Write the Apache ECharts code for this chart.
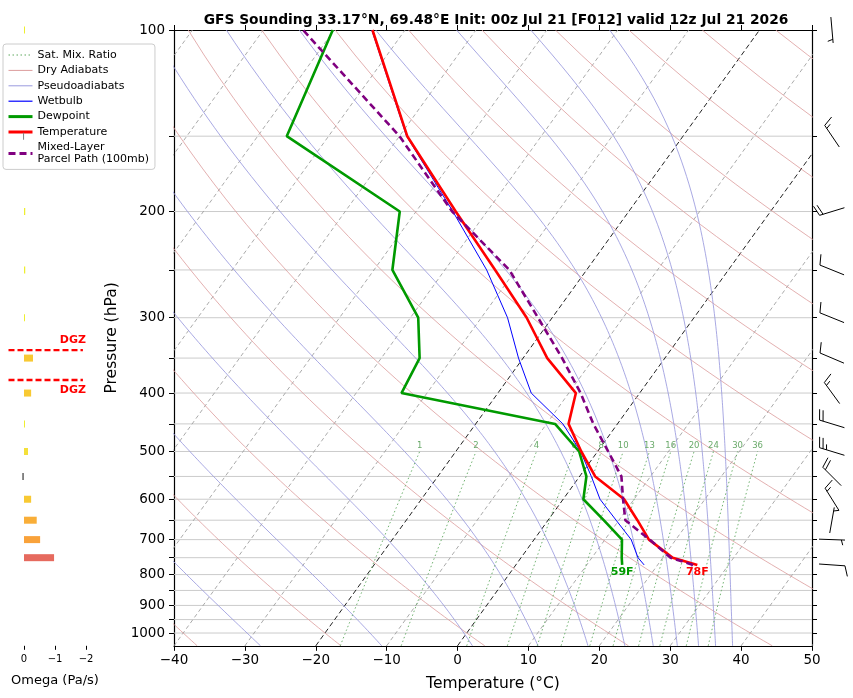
<!DOCTYPE html>
<html><head><meta charset="utf-8">
<script src="https://cdn.jsdelivr.net/npm/echarts@6/dist/echarts.min.js"></script>
<style>html,body{margin:0;padding:0;background:#fff}#c{width:853px;height:698px}</style>
</head><body><div id="c"></div>
<script>
// ---------------- data ----------------
const pressure    = [771, 750, 700, 650, 600, 550, 500, 450, 400, 350, 300, 250, 200, 150, 100];
const temperature = [25.6, 21.4, 16.2, 12.6, 8.6, 2.2, -2.3, -6.9, -9.0, -16.6, -23.6, -32.9, -44.4, -58.9, -74.6];
const dewpoint    = [15.0, 14.2, 12.4, 7.85, 2.85, 0.96, -2.6, -8.8, -33.6, -34.6, -38.9, -47.4, -52.3, -75.9, -80.2];
const wetbulb     = [18.1, 16.5, 13.7, 9.6, 5.2, 1.66, -2.4, -7.7, -15.3, -20.65, -26.3, -34.1, -44.8, -59.0, -74.7];
const parcel      = [25.0, 21.1, 16.3, 10.9, 8.45, 5.9, 1.5, -3.4, -8.34, -14.5, -22.0, -30.9, -44.9, -60.0, -84.4];

const windP   = [771, 700, 650, 600, 550, 500, 450, 400, 350, 300, 250, 200, 150, 100];
const windDir = [94, 92, 10, 328, 315, 287, 287, 324, 293, 292, 292, 253, 326, 175];
const windSpd = [10, 5, 5, 15, 20, 25, 20, 15, 10, 10, 10, 20, 15, 5];

const omegaP   = [750, 700, 650, 600, 550, 500, 450, 400, 350, 300, 250, 200, 150, 100];
const omegaVal = [-0.97, -0.52, -0.41, -0.23, 0.06, -0.13, -0.03, -0.23, -0.29, -0.03, -0.04, -0.04, 0.03, -0.02];

const dgzP = [339.5, 380.5];

const pressureLabels = [100, 200, 300, 400, 500, 600, 700, 800, 900, 1000];
const pressureTicks  = [100,150,200,250,300,350,400,450,500,550,600,650,700,750,800,850,900,950,1000];
const mixRatios      = [1, 2, 4, 6, 8, 10, 13, 16, 20, 24, 30, 36];
const dryThetas      = [-40,-20,0,20,40,60,80,100,120,140,160,180,200,220,240,260];
const moistStarts    = [-27.8, -10.7, 2.1, 11.35, 18.4, 23.6, 27.6, 31.0, 34.0, 36.4, 38.8];
const isotherms      = [-100,-90,-80,-70,-60,-50,-40,-30,-10,10,20,30,40,50];
const boldIsotherms  = [-20, 0];

// ---------------- skew-T helpers ----------------
const P_BOT = 1050, P_TOP = 100, SKEW = 61.3;
const ly = p => Math.log10(p);
const sx = (t, p) => t + SKEW * (Math.log10(P_BOT) - Math.log10(p));
const pt = (t, p) => [sx(t, p), ly(p)];
const GAP = ['-', '-'];
const minus = v => (v < 0 ? '\u2212' + (-v) : String(v));
const FONT = 'DejaVu Sans';

const C_MIX = '#5fa85f', C_DRY = '#dc9c9c', C_MOIST = '#9a9ade';

const levels = [];
for (let p = P_BOT; p >= P_TOP; p -= 10) levels.push(p);

const isobarData = [];
pressureTicks.slice(1).forEach(p => { isobarData.push([-40, ly(p)], [50, ly(p)], GAP); });

const isoData = [], isoBoldData = [];
isotherms.forEach(t => isoData.push(pt(t, P_BOT), pt(t, P_TOP), GAP));
boldIsotherms.forEach(t => isoBoldData.push(pt(t, P_BOT), pt(t, P_TOP), GAP));

const dryData = [];
dryThetas.forEach(th => {
  levels.forEach(p => dryData.push(pt((th + 273.15) * Math.pow(p / 1000, 0.2857) - 273.15, p)));
  dryData.push(GAP);
});

const moistData = [];
(function () {
  const Rd = 287.04, Cp = 1005.7, Lv = 2.501e6, eps = 0.622;
  const f = (T, p) => {
    const es = 6.112 * Math.exp(17.67 * (T - 273.15) / (T - 29.65));
    const rs = eps * es / (p - es);
    return (Rd * T + Lv * rs) / (p * (Cp + Lv * Lv * rs * eps / (Rd * T * T)));
  };
  moistStarts.forEach(t0 => {
    let T = t0 + 273.15, p = P_BOT;
    moistData.push(pt(T - 273.15, p));
    const dp = -5;
    while (p > P_TOP + 0.1) {
      const k1 = f(T, p);
      const k2 = f(T + k1 * dp / 2, p + dp / 2);
      T += k2 * dp; p += dp;
      moistData.push(pt(T - 273.15, p));
    }
    moistData.push(GAP);
  });
})();

const tdFromMix = (w, p) => {
  const e = p * w / (622 + w);
  const l = Math.log(e / 6.112);
  return 243.5 * l / (17.67 - l);
};
const mixData = [];
mixRatios.forEach(w => {
  for (let p = P_BOT; p >= 500; p -= 10) mixData.push(pt(tdFromMix(w, p), p));
  mixData.push(GAP);
});
const mixLabelData = mixRatios.map(w => ({ value: pt(tdFromMix(w, 500), 500), name: String(w) }));

const tempData   = pressure.map((p, i) => pt(temperature[i], p));
const dewData    = pressure.map((p, i) => pt(dewpoint[i], p));
const wetData    = pressure.map((p, i) => pt(wetbulb[i], p));
const parcelData = pressure.map((p, i) => pt(parcel[i], p));

const lineSeries = (name, data, color, width, type, z) => ({
  name, type: 'line', data, xAxisIndex: 0, yAxisIndex: 0, showSymbol: false, symbol: 'none',
  connectNulls: false, silent: true, z: z || 1, clip: true,
  itemStyle: { color },
  lineStyle: { color, width, type: type || 'solid' }, emphasis: { disabled: true }
});

const omegaColor = v => {
  if (v > 0) return '#808080';
  const m = -v;
  if (m >= 0.8) return '#e66a5e';
  if (m >= 0.45) return '#f9a23a';
  if (m >= 0.35) return '#f9ae38';
  if (m >= 0.15) return '#f8c933';
  if (m >= 0.08) return '#f4e03a';
  return '#eeee30';
};

const chart = echarts.init(document.getElementById('c'), null, { renderer: 'canvas' });
const option = {
  animation: false,
  backgroundColor: '#fff',
  textStyle: { fontFamily: FONT },
  title: {
    text: 'GFS Sounding 33.17°N, 69.48°E Init: 00z Jul 21 [F012] valid 12z Jul 21 2026',
    left: 491, top: 8, textAlign: 'center',
    textStyle: { fontSize: 13.8, fontWeight: 'bold', color: '#000', fontFamily: FONT }
  },
  legend: {
    orient: 'vertical', left: 3, top: 44, itemWidth: 24, itemHeight: 12, itemGap: 3.4,
    padding: [5, 6, 4, 4], backgroundColor: 'rgba(255,255,255,0.85)', borderColor: '#cccccc',
    borderWidth: 1, borderRadius: 3, z: 4,
    itemStyle: { opacity: 0, borderWidth: 0 },
    textStyle: { fontSize: 11, color: '#000', fontFamily: FONT, lineHeight: 12 },
    selectedMode: false,
    data: [
      { name: 'Sat. Mix. Ratio', lineStyle: { width: 1, color: C_MIX, type: [1.5, 2.5] } },
      { name: 'Dry Adiabats', lineStyle: { width: 1, color: C_DRY, type: 'solid' } },
      { name: 'Pseudoadiabats', lineStyle: { width: 1, color: C_MOIST, type: 'solid' } },
      { name: 'Wetbulb', lineStyle: { width: 1.2, color: '#0000ff', type: 'solid' } },
      { name: 'Dewpoint', lineStyle: { width: 3, color: '#009a00', type: 'solid' } },
      { name: 'Temperature', lineStyle: { width: 3, color: '#ff0000', type: 'solid' } },
      { name: 'Mixed-Layer\nParcel Path (100mb)', lineStyle: { width: 3, color: '#800080', type: [7, 4] } }
    ]
  },
  grid: [
    { left: 174, top: 30, width: 638, height: 615.8, containLabel: false },
    { left: 8.5, top: 30, width: 93, height: 615.8, containLabel: false }
  ],
  xAxis: [
    { gridIndex: 0, type: 'value', min: -40, max: 50, interval: 10, position: 'bottom',
      axisLine: { onZero: false, lineStyle: { color: '#000', width: 1.2 } },
      axisTick: { length: 5, lineStyle: { color: '#000' } },
      axisLabel: { formatter: minus, color: '#000', fontSize: 13.5, margin: 8, fontFamily: FONT },
      splitLine: { show: false },
      name: 'Temperature (°C)', nameLocation: 'middle', nameGap: 30,
      nameTextStyle: { fontSize: 15.5, color: '#000', fontFamily: FONT } },
    { gridIndex: 0, type: 'value', min: -40, max: 50, interval: 10, position: 'top',
      axisLine: { onZero: false, lineStyle: { color: '#000', width: 1.2 } },
      axisTick: { length: 5, lineStyle: { color: '#000' } },
      axisLabel: { show: false }, splitLine: { show: false } },
    { gridIndex: 1, type: 'value', min: -2.5, max: 0.5, interval: 0.5, inverse: true, position: 'bottom',
      axisLine: { show: false, onZero: false },
      axisTick: { customValues: [-2, -1, 0], length: 4, lineStyle: { color: '#000' } },
      axisLabel: { customValues: [-2, -1, 0], formatter: minus, color: '#000', fontSize: 10, margin: 9, fontFamily: FONT },
      splitLine: { show: false },
      name: 'Omega (Pa/s)', nameLocation: 'middle', nameGap: 28,
      nameTextStyle: { fontSize: 13, color: '#000', fontFamily: FONT } }
  ],
  yAxis: [
    { gridIndex: 0, type: 'value', inverse: true, min: ly(P_TOP), max: ly(P_BOT), position: 'left',
      axisLine: { onZero: false, lineStyle: { color: '#000', width: 1.2 } },
      axisTick: { customValues: pressureTicks.map(ly), length: 5, lineStyle: { color: '#000' } },
      axisLabel: { customValues: pressureLabels.map(ly), formatter: v => String(Math.round(Math.pow(10, v))),
                   color: '#000', fontSize: 13.5, margin: 9, fontFamily: FONT },
      splitLine: { show: false },
      name: 'Pressure (hPa)', nameLocation: 'middle', nameGap: 47, nameRotate: 90,
      nameTextStyle: { fontSize: 15.5, color: '#000', fontFamily: FONT } },
    { gridIndex: 0, type: 'value', inverse: true, min: ly(P_TOP), max: ly(P_BOT), position: 'right',
      axisLine: { onZero: false, lineStyle: { color: '#000', width: 1.2 } },
      axisTick: { customValues: pressureTicks.map(ly), length: 5, lineStyle: { color: '#000' } },
      axisLabel: { show: false }, splitLine: { show: false } },
    { gridIndex: 1, type: 'value', inverse: true, min: ly(P_TOP), max: ly(P_BOT), show: false,
      axisLine: { onZero: false } }
  ],
  series: [
    lineSeries('isobars', isobarData, '#cccccc', 1, 'solid', 0),
    lineSeries('isotherms', isoData, '#a0a0a0', 0.9, [4, 3], 1),
    lineSeries('isotherms0', isoBoldData, '#222222', 1, [5, 3], 1),
    lineSeries('Dry Adiabats', dryData, C_DRY, 0.8, 'solid', 1),
    lineSeries('Pseudoadiabats', moistData, C_MOIST, 0.85, 'solid', 1),
    lineSeries('Sat. Mix. Ratio', mixData, C_MIX, 0.9, [1.5, 2.5], 1),
    {
      name: 'mixlabels', type: 'custom', xAxisIndex: 0, yAxisIndex: 0, silent: true, z: 2, clip: false,
      data: mixLabelData,
      renderItem: (params, api) => {
        const c = api.coord([api.value(0), api.value(1)]);
        return { type: 'text', style: { text: mixLabelData[params.dataIndex].name, x: c[0], y: c[1] - 1,
          align: 'center', verticalAlign: 'bottom', fill: '#6aaa6a', font: '8.5px ' + FONT } };
      }
    },
    lineSeries('Wetbulb', wetData, '#0000ff', 1, 'solid', 3),
    lineSeries('Dewpoint', dewData, '#009a00', 2.6, 'solid', 4),
    lineSeries('Temperature', tempData, '#ff0000', 2.6, 'solid', 4),
    lineSeries('Mixed-Layer\nParcel Path (100mb)', parcelData, '#800080', 2.6, [7, 4], 5),
    {
      name: 'sfclabels', type: 'custom', xAxisIndex: 0, yAxisIndex: 0, silent: true, z: 6, clip: false,
      data: [[dewData[0][0], dewData[0][1], dewpoint[0]], [tempData[0][0], tempData[0][1], temperature[0]]],
      renderItem: (params, api) => {
        const c = api.coord([api.value(0), api.value(1)]);
        const f = Math.round(api.value(2) * 9 / 5 + 32) + 'F';
        return { type: 'text', style: { text: f, x: c[0], y: c[1] + 2, align: 'center', verticalAlign: 'top',
          fill: params.dataIndex === 0 ? '#009a00' : '#ff0000', font: 'bold 11px ' + FONT } };
      }
    },
    {
      name: 'barbs', type: 'custom', xAxisIndex: 0, yAxisIndex: 0, silent: true, z: 6, clip: false,
      data: windP.map((p, i) => [50, ly(p), windDir[i], windSpd[i]]),
      renderItem: (params, api) => {
        const c = api.coord([api.value(0), api.value(1)]);
        const cx = c[0] + 20, cy = c[1];
        const L = 26, H = 0.4 * L, W = 0.12 * L, SP = 0.14 * L;
        const th = api.value(2) * Math.PI / 180;
        const d = [Math.sin(th), -Math.cos(th)];
        const pp = [-d[1], d[0]];
        const E = [cx + d[0] * L / 2, cy + d[1] * L / 2];
        const S = [cx - d[0] * L / 2, cy - d[1] * L / 2];
        const st = { stroke: '#000', lineWidth: 1 };
        const ch = [{ type: 'line', shape: { x1: S[0], y1: S[1], x2: E[0], y2: E[1] }, style: st }];
        let spd = Math.round(api.value(3) / 5) * 5;
        const full = Math.floor(spd / 10), half = (spd % 10) >= 5 ? 1 : 0;
        let pos = 0;
        for (let k = 0; k < full; k++) {
          const b = [E[0] - d[0] * pos, E[1] - d[1] * pos];
          ch.push({ type: 'line', shape: { x1: b[0], y1: b[1], x2: b[0] + pp[0] * H + d[0] * W, y2: b[1] + pp[1] * H + d[1] * W }, style: st });
          pos += SP;
        }
        if (half) {
          if (full === 0) pos += SP;
          const b = [E[0] - d[0] * pos, E[1] - d[1] * pos];
          ch.push({ type: 'line', shape: { x1: b[0], y1: b[1], x2: b[0] + pp[0] * H / 2 + d[0] * W / 2, y2: b[1] + pp[1] * H / 2 + d[1] * W / 2 }, style: st });
        }
        return { type: 'group', children: ch };
      }
    },
    {
      name: 'omega', type: 'custom', xAxisIndex: 2, yAxisIndex: 2, silent: true, z: 6, clip: false,
      data: omegaP.map((p, i) => [omegaVal[i], ly(p)]),
      renderItem: (params, api) => {
        const a = api.coord([0, api.value(1)]);
        const b = api.coord([api.value(0), api.value(1)]);
        const x = Math.min(a[0], b[0]);
        const w = Math.max(1, Math.abs(b[0] - a[0]));
        return { type: 'rect', shape: { x, y: a[1] - 3.5, width: w, height: 7 },
          style: { fill: omegaColor(api.value(0)) } };
      }
    },
    {
      name: 'dgz', type: 'line', xAxisIndex: 2, yAxisIndex: 2, showSymbol: false, symbol: 'none', silent: true, z: 5,
      data: [[0.5, ly(dgzP[0])], [-1.9, ly(dgzP[0])], GAP, [0.5, ly(dgzP[1])], [-1.9, ly(dgzP[1])]],
      connectNulls: false, lineStyle: { color: '#ff0000', width: 2.4, type: [6, 3] }
    },
    {
      name: 'dgzlabels', type: 'custom', xAxisIndex: 2, yAxisIndex: 2, silent: true, z: 6, clip: false,
      data: dgzP.map(p => [-2.0, ly(p)]),
      renderItem: (params, api) => {
        const c = api.coord([api.value(0), api.value(1)]);
        const top = params.dataIndex === 0;
        return { type: 'text', style: { text: 'DGZ', x: c[0], y: top ? c[1] - 4 : c[1] + 5,
          align: 'right', verticalAlign: top ? 'bottom' : 'top', fill: '#ff0000', font: 'bold 11px ' + FONT } };
      }
    }
  ]
};
chart.setOption(option);
</script>
</body></html>
